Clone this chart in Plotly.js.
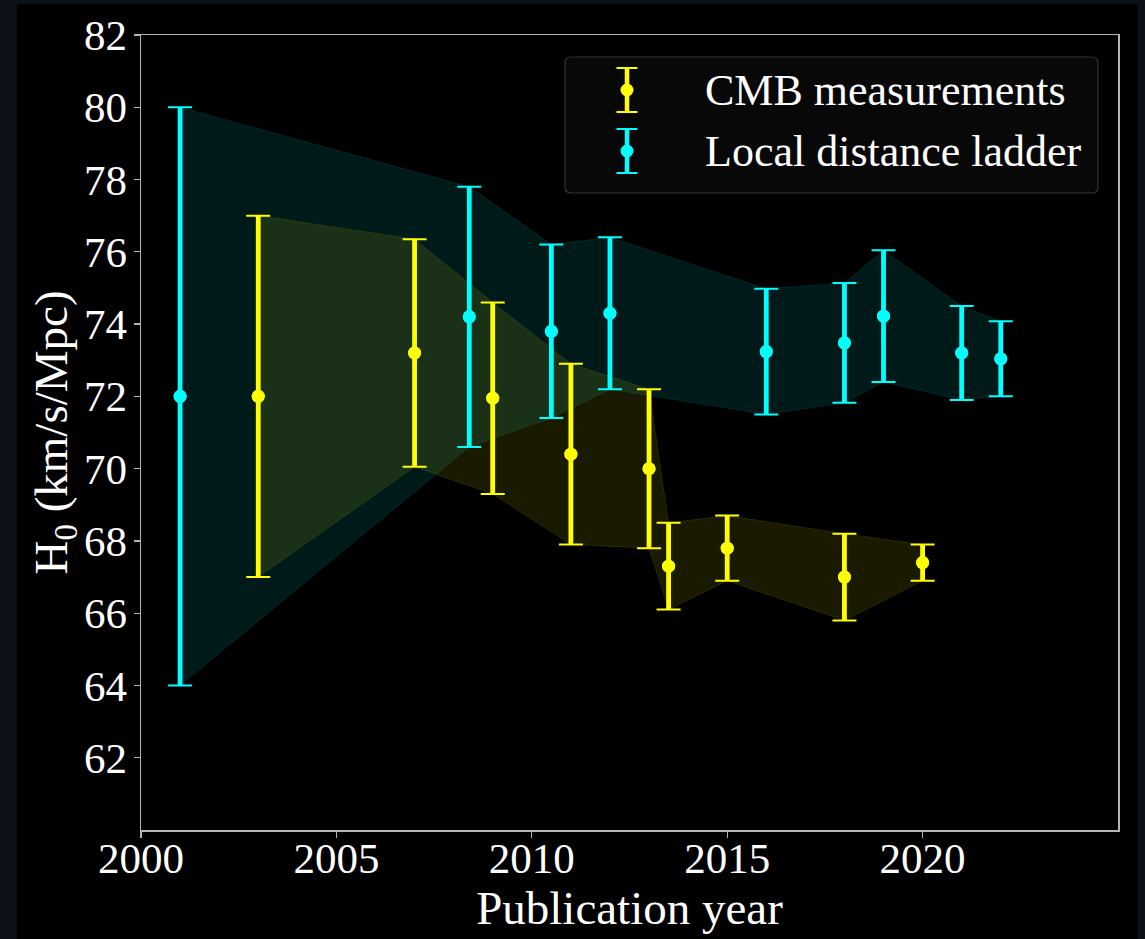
<!DOCTYPE html>
<html>
<head>
<meta charset="utf-8">
<script src="https://cdn.plot.ly/plotly-3.0.1.min.js"></script>
<style>
  html, body { margin: 0; padding: 0; background: #0d1117; width: 1145px; height: 939px; overflow: hidden; }
  #chart { position: absolute; left: 17px; top: 4px; width: 1121px; height: 935px; background: #000; }
</style>
</head>
<body>
<div id="chart"></div>
<script>
// ---- Data ----
const cmbYear = [2003, 2007, 2009, 2011, 2013, 2013.5, 2015, 2018, 2020];
const cmbH0   = [72.0, 73.2, 71.95, 70.4, 70.0, 67.3, 67.8, 67.0, 67.4];
const cmbErr  = [5.0, 3.15, 2.65, 2.5, 2.2, 1.2, 0.9, 1.2, 0.5];

const ladderYear = [2001, 2008.4, 2010.5, 2012, 2016, 2018, 2019, 2021, 2022];
const ladderH0   = [72.0, 74.2, 73.8, 74.3, 73.24, 73.48, 74.22, 73.2, 73.04];
const ladderErr  = [8.0, 3.6, 2.4, 2.1, 1.74, 1.66, 1.82, 1.3, 1.04];

const xTicks = [2000, 2005, 2010, 2015, 2020];
const yTicks = [62, 64, 66, 68, 70, 72, 74, 76, 78, 80, 82];

const legendLabels = ['CMB measurements', 'Local distance ladder'];

// ---- Style ----
const YELLOW = '#ffff00';
const CYAN = '#00ffff';
const FONT = '"Liberation Serif", "Times New Roman", serif';
const W = 1121, H = 935;
const margin = {l: 124, r: 20, t: 31, b: 109, pad: 0};
const OFFX = 17, OFFY = 4;
const pw = W - margin.l - margin.r, ph = H - margin.t - margin.b;
function px(xPage) { return (xPage - OFFX - margin.l) / pw; }
function py(yPage) { return 1 - (yPage - OFFY - margin.t) / ph; }

function upper(v, e) { return v.map((d, i) => d + e[i]); }
function lower(v, e) { return v.map((d, i) => d - e[i]); }

function band(xs, vs, es, rgb) {
  const edge = 'rgba(' + rgb + ',0.1)';
  return [
    {x: xs, y: lower(vs, es), mode: 'lines', line: {color: edge, width: 1},
     showlegend: false, hoverinfo: 'skip'},
    {x: xs, y: upper(vs, es), mode: 'lines', line: {color: edge, width: 1},
     fill: 'tonexty', fillcolor: 'rgba(' + rgb + ',0.1)', showlegend: false, hoverinfo: 'skip'}
  ];
}

function errTraces(xs, vs, es, color, name) {
  return [
    // caps (thin)
    {x: xs, y: vs, mode: 'markers', name: name, showlegend: false,
     marker: {size: 13, color: color},
     error_y: {type: 'data', array: es, visible: true, color: color, thickness: 2, width: 12}},
    // thick bars + markers
    {x: xs, y: vs, mode: 'markers', name: name, showlegend: false,
     marker: {size: 13, color: color},
     error_y: {type: 'data', array: es, visible: true, color: color, thickness: 4.8, width: 0}}
  ];
}

const traces = []
  .concat(band(ladderYear, ladderH0, ladderErr, '0,255,255'))
  .concat(band(cmbYear, cmbH0, cmbErr, '255,255,0'))
  .concat(errTraces(cmbYear, cmbH0, cmbErr, YELLOW, legendLabels[0]))
  .concat(errTraces(ladderYear, ladderH0, ladderErr, CYAN, legendLabels[1]));

// ---- Custom legend (box + glyphs + text) ----
function roundRect(x0p, y0p, x1p, y1p, r) {
  const x0 = px(x0p), x1 = px(x1p), yt = py(y0p), yb = py(y1p);
  const rx = r / pw, ry = r / ph;
  return 'M' + (x0 + rx) + ',' + yt +
    ' L' + (x1 - rx) + ',' + yt +
    ' Q' + x1 + ',' + yt + ' ' + x1 + ',' + (yt - ry) +
    ' L' + x1 + ',' + (yb + ry) +
    ' Q' + x1 + ',' + yb + ' ' + (x1 - rx) + ',' + yb +
    ' L' + (x0 + rx) + ',' + yb +
    ' Q' + x0 + ',' + yb + ' ' + x0 + ',' + (yb + ry) +
    ' L' + x0 + ',' + (yt - ry) +
    ' Q' + x0 + ',' + yt + ' ' + (x0 + rx) + ',' + yt + ' Z';
}

const shapes = [{
  type: 'path', xref: 'paper', yref: 'paper', path: roundRect(565, 57, 1098, 193, 6),
  fillcolor: 'rgba(8,8,8,1)', line: {color: '#333333', width: 1.2}, layer: 'above'
}];

function glyph(cx, cy, color) {
  const half = 22, cap = 10.5, r = 6.5;
  const out = [];
  out.push({type: 'line', xref: 'paper', yref: 'paper', x0: px(cx), x1: px(cx),
    y0: py(cy - half), y1: py(cy + half), line: {color: color, width: 4.5}, layer: 'above'});
  [cy - half, cy + half].forEach(yy => out.push({type: 'line', xref: 'paper', yref: 'paper',
    x0: px(cx - cap), x1: px(cx + cap), y0: py(yy), y1: py(yy),
    line: {color: color, width: 2}, layer: 'above'}));
  out.push({type: 'circle', xref: 'paper', yref: 'paper', x0: px(cx - r), x1: px(cx + r),
    y0: py(cy + r), y1: py(cy - r), fillcolor: color, line: {width: 0}, layer: 'above'});
  return out;
}
const legendRows = [90, 151];
const legendColors = [YELLOW, CYAN];
legendRows.forEach((cy, i) => glyph(627, cy, legendColors[i]).forEach(s => shapes.push(s)));

const annotations = legendLabels.map((t, i) => ({
  text: t, xref: 'paper', yref: 'paper', x: px(703), y: py(legendRows[i] + 1),
  xanchor: 'left', yanchor: 'middle', showarrow: false,
  font: {family: FONT, size: 44, color: '#ffffff'}
}));

const layout = {
  width: W, height: H,
  margin: margin,
  paper_bgcolor: '#000000',
  plot_bgcolor: '#000000',
  showlegend: false,
  font: {family: FONT, color: '#ffffff'},
  xaxis: {
    range: [2000, 2025], tickvals: xTicks, ticktext: xTicks.map(String),
    showgrid: false, zeroline: false,
    showline: true, mirror: true, linecolor: '#b4b4b4', linewidth: 1.5,
    ticks: 'outside', ticklen: 6, tickwidth: 1.2, tickcolor: '#b4b4b4',
    ticklabelstandoff: -16,
    tickfont: {family: FONT, size: 43, color: '#ffffff'},
    title: {text: 'Publication year', font: {family: FONT, size: 47, color: '#ffffff'}, standoff: 9}
  },
  yaxis: {
    range: [60, 82], tickvals: yTicks, ticktext: yTicks.map(String),
    showgrid: false, zeroline: false,
    showline: true, mirror: true, linecolor: '#b4b4b4', linewidth: 1.5,
    ticks: 'outside', ticklen: 6, tickwidth: 1.2, tickcolor: '#b4b4b4',
    ticklabelstandoff: -2,
    tickfont: {family: FONT, size: 43, color: '#ffffff'},
    title: {text: 'H<sub>0</sub> (km/s/Mpc)', font: {family: FONT, size: 47, color: '#ffffff'}, standoff: 0}
  },
  shapes: shapes,
  annotations: annotations
};

Plotly.newPlot('chart', traces, layout, {displayModeBar: false, staticPlot: true});
</script>
</body>
</html>
